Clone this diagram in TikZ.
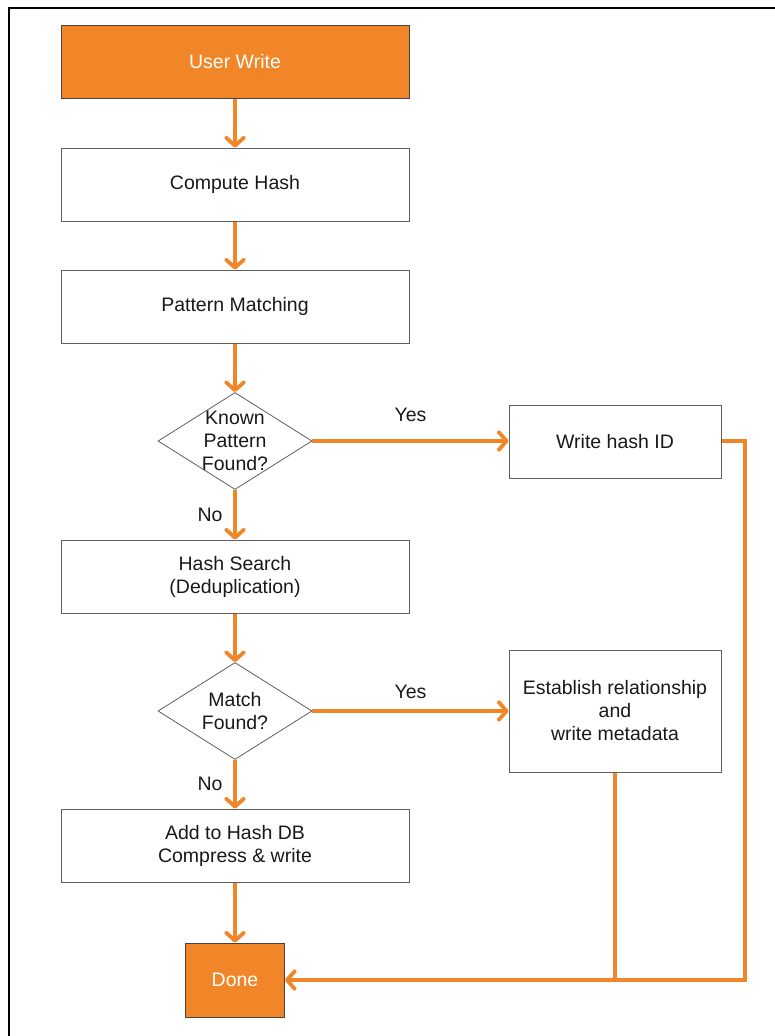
\documentclass[tikz,border=0pt]{standalone}
\usepackage{fontspec}
\setmainfont{Liberation Sans}
\usetikzlibrary{arrows.meta,shapes.geometric}
\definecolor{flow}{RGB}{240,134,40}
\definecolor{edge}{RGB}{95,95,95}
\definecolor{ink}{RGB}{25,25,25}
\begin{document}
\begin{tikzpicture}[x=1pt,y=-1pt,
  txt/.style={font=\fontsize{19.5}{23}\selectfont, text=ink, align=center, inner sep=0pt},
  box/.style={txt, draw=edge, line width=1pt, fill=white, minimum width=348pt, minimum height=73pt},
  sidebox/.style={box, minimum width=212pt},
  term/.style={box, fill=flow, draw=edge!70!black, text=white},
  decision/.style={diamond, draw=edge, line width=0.8pt, minimum width=154pt, minimum height=97pt, inner sep=0pt},
  flowline/.style={draw=flow, line width=4pt},
  arr/.style={flowline, -{Straight Barb[length=8pt,width=18pt,line width=3.8pt,round]}},
  lbl/.style={txt}]
  % page and frame
  \useasboundingbox[fill=white] (0,0) rectangle (775,1036);
  \draw[line width=1.5pt] (9,1036) -- (9,8) -- (775,8);

  % main column
  \node[term] (uw) at (235,61.5) {User Write};
  \node[box] (ch) at (235,184.5) {Compute Hash};
  \node[box] (pm) at (235,306.5) {Pattern Matching};
  \node[decision] (d1) at (235,441) {};
  \node[txt] at (d1) {Known\\Pattern\\Found?};
  \node[box] (hs) at (235,576.5) {Hash Search\\(Deduplication)};
  \node[decision] (d2) at (235,711) {};
  \node[txt] at (d2) {Match\\Found?};
  \node[box] (ad) at (235,845.5) {Add to Hash DB\\Compress \& write};
  \node[term, minimum width=99pt, minimum height=74pt] (done) at (235,980) {Done};

  % side column
  \node[sidebox] (wh) at (615,441.5) {Write hash ID};
  \node[sidebox, minimum height=122pt] (es) at (615,711) {Establish relationship\\and\\write metadata};

  % return path corners
  \coordinate (rc) at (745,980);
  \coordinate (jn) at (615,980);

  % connectors
  \draw[arr] (uw) -- (ch);
  \draw[arr] (ch) -- (pm);
  \draw[arr] (pm) -- (d1);
  \draw[arr] (d1.east) -- node[lbl, yshift=26pt] {Yes} (d1.east -| wh.west);
  \draw[arr] (d1) -- node[lbl, xshift=-25pt] {No} (hs);
  \draw[arr] (hs) -- (d2);
  \draw[arr] (d2.east) -- node[lbl, yshift=19pt] {Yes} (es.west);
  \draw[arr] (d2) -- node[lbl, xshift=-25pt] {No} (ad);
  \draw[arr] (ad) -- (done);
  \draw[flowline] (es.south) -- (jn);
  \draw[arr, line join=miter] (d1.east -| wh.east) -| (rc) -- (done.east);
\end{tikzpicture}
\end{document}
